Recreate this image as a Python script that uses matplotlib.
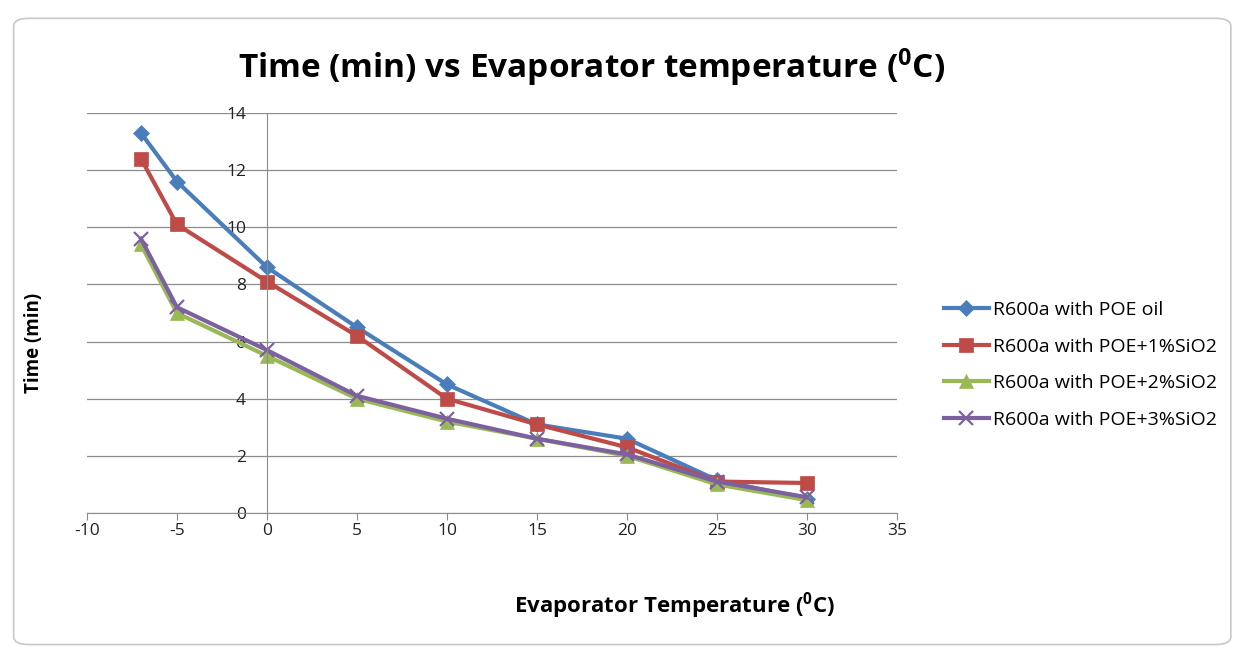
import matplotlib
matplotlib.use("Agg")
import matplotlib.pyplot as plt
from matplotlib.patches import FancyBboxPatch

plt.rcParams['font.family'] = ['Open Sans', 'DejaVu Sans']
plt.rcParams['mathtext.fontset'] = 'custom'
plt.rcParams['mathtext.bf'] = 'Open Sans:bold'
plt.rcParams['mathtext.rm'] = 'Open Sans'
plt.rcParams['axes.unicode_minus'] = False

# evaporator temperature (C)
temps = [-7, -5, 0, 5, 10, 15, 20, 25, 30]
poe_oil = [13.3, 11.6, 8.6, 6.5, 4.5, 3.1, 2.6, 1.15, 0.5]
poe_1 = [12.4, 10.1, 8.1, 6.2, 4.0, 3.1, 2.3, 1.1, 1.05]
poe_2 = [9.4, 7.0, 5.5, 4.0, 3.2, 2.6, 2.0, 1.0, 0.45]
poe_3 = [9.6, 7.2, 5.7, 4.1, 3.3, 2.6, 2.05, 1.1, 0.55]
labels = ["R600a with POE oil", "R600a with POE+1%SiO2",
          "R600a with POE+2%SiO2", "R600a with POE+3%SiO2"]
xticks = [-10, -5, 0, 5, 10, 15, 20, 25, 30, 35]
yticks = [0, 2, 4, 6, 8, 10, 12, 14]

fig = plt.figure(figsize=(12.42, 6.55), dpi=100)
# chart frame behind everything
frame = FancyBboxPatch((0.011, 0.016), 0.980, 0.956, boxstyle="round,pad=0,rounding_size=0.012",
                       transform=fig.transFigure, facecolor='white', edgecolor='#c8c8c8', lw=1.2,
                       zorder=-10)
fig.patches.append(frame)

ax = fig.add_axes([0.0700, 0.2168, 0.6522, 0.6107])
ax.set_facecolor('none')

styles = [('#4A7EBB', 'D', 8), ('#BE4B48', 's', 10), ('#98B954', '^', 10), ('#7D60A0', 'x', 10)]
for ys, lab, (c, m, ms) in zip([poe_oil, poe_1, poe_2, poe_3], labels, styles):
    ax.plot(temps, ys, color=c, lw=3, marker=m, ms=ms, mew=1.6 if m == 'x' else 0.5,
            mec=c, label=lab)

ax.set_xlim(-10, 35)
ax.set_ylim(0, 14)
ax.set_xticks(xticks)
ax.set_yticks(yticks)
ax.yaxis.grid(True, color='#8c8c8c', lw=0.9)
ax.set_axisbelow(True)

ax.spines['left'].set_position(('data', 0))
ax.spines['left'].set_color('#8c8c8c')
ax.spines['bottom'].set_color('#8c8c8c')
ax.spines['top'].set_visible(False)
ax.spines['right'].set_visible(False)
ax.tick_params(axis='y', length=0, pad=15, labelsize=12.5, colors='#222222')
ax.tick_params(axis='x', length=5, direction='out', color='#8c8c8c', pad=2, labelsize=12.5,
               labelcolor='#222222')

fig.text(0.476, 0.896, r"Time (min) vs Evaporator temperature ($\mathbf{^0}$C)",
         ha='center', va='center', fontsize=24, fontweight='bold')
fig.text(0.027, 0.477, "Time (min)", rotation=90, ha='center', va='center',
         fontsize=13.5, fontweight='bold')
fig.text(0.543, 0.076, r"Evaporator Temperature ($\mathbf{^0}$C)", ha='center', va='center',
         fontsize=16, fontweight='bold')

ax.legend(loc='center left', bbox_to_anchor=(1.046, 0.37), frameon=False, fontsize=14,
          handlelength=2.3, labelspacing=0.95, handletextpad=0.2, borderpad=0)

fig.savefig("out.png", dpi=100)
